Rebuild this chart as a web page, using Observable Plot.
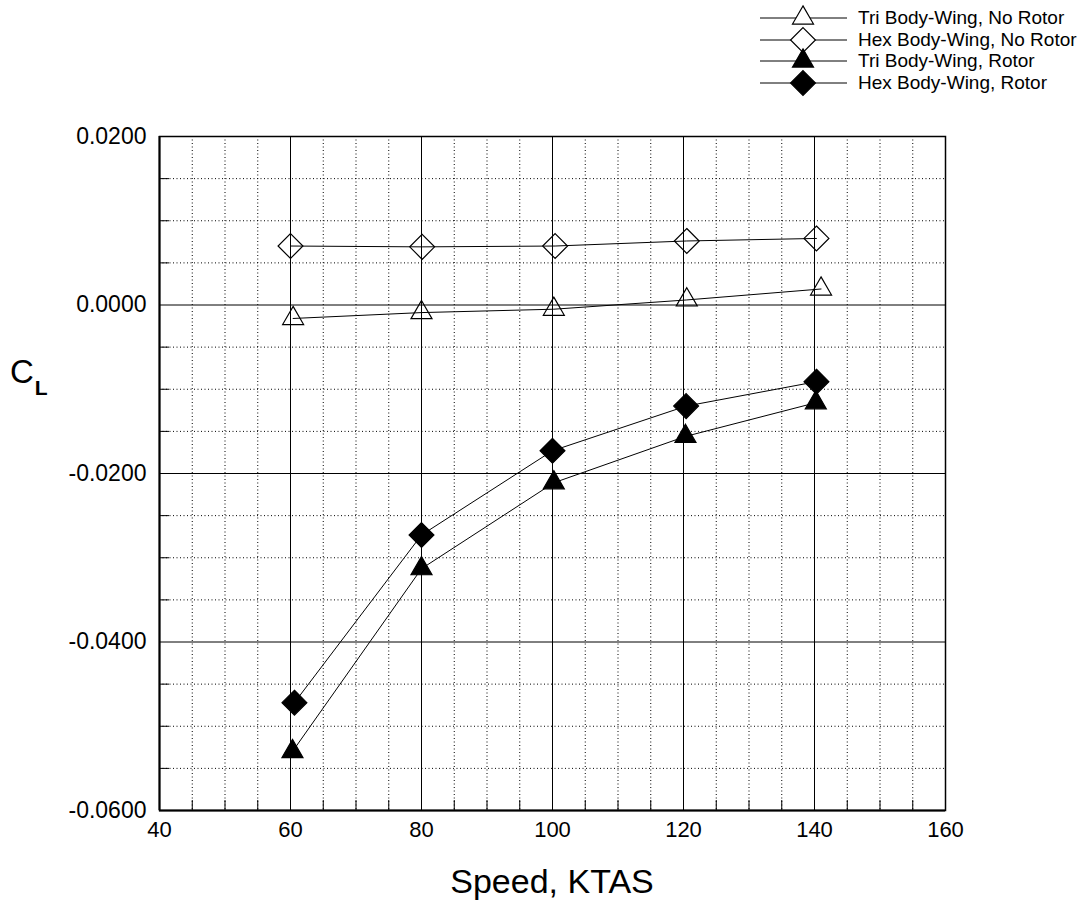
<!DOCTYPE html>
<html><head><meta charset="utf-8">
<script src="https://cdn.jsdelivr.net/npm/d3@7"></script>
<script src="https://cdn.jsdelivr.net/npm/@observablehq/plot@0.6"></script>
<style>
body{margin:0;background:#fff;font-family:"Liberation Sans",Arial,sans-serif;color:#000;}
#wrap{position:relative;width:1087px;height:903px;overflow:hidden;}
#legend{position:absolute;left:760px;top:7px;font-size:19px;}
#legend .row{display:flex;align-items:center;height:21.7px;}
#legend .row span{margin-left:10px;white-space:nowrap;}
#xtitle{position:absolute;left:159px;width:786px;top:862px;text-align:center;font-size:34px;line-height:38px;}
#ytitle{position:absolute;left:10px;top:354px;font-size:33px;line-height:36px;}
#ytitle sub{font-size:21px;font-weight:bold;vertical-align:-12px;margin-left:1px;}
</style></head><body><div id="wrap"><div id="legend"></div><div id="xtitle">Speed, KTAS</div><div id="ytitle">C<sub>L</sub></div></div>
<script>
// ---- data ----
const seriesNames = ["Tri Body-Wing, No Rotor","Hex Body-Wing, No Rotor","Tri Body-Wing, Rotor","Hex Body-Wing, Rotor"];
const seriesSymbols = ["triangle","diamond2","triangle","diamond2"];
const seriesFilled = [false,false,true,true];
const speedTriNoRotor = [60.4, 80.0, 100.2, 120.5, 141.0];
const clTriNoRotor    = [-0.0016, -0.0009, -0.0005, 0.0006, 0.0019];
const speedHexNoRotor = [60.0, 80.1, 100.4, 120.5, 140.3];
const clHexNoRotor    = [0.0070, 0.0069, 0.0070, 0.0076, 0.0079];
const speedTriRotor   = [60.3, 80.0, 100.2, 120.3, 140.2];
const clTriRotor      = [-0.0530, -0.0313, -0.0211, -0.0156, -0.0116];
const speedHexRotor   = [60.6, 80.0, 100.0, 120.4, 140.3];
const clHexRotor      = [-0.0472, -0.0273, -0.0173, -0.0120, -0.0091];
const xTicks = [40, 60, 80, 100, 120, 140, 160];
const yTicks = [-0.06, -0.04, -0.02, 0, 0.02];
const xMajorGrid = [60, 80, 100, 120, 140];
const yMajorGrid = [-0.04, -0.02, 0];
const xMinorGrid = [45, 50, 55, 65, 70, 75, 85, 90, 95, 105, 110, 115, 125, 130, 135, 145, 150, 155];
const yMinorGrid = [-0.055, -0.05, -0.045, -0.035, -0.03, -0.025, -0.015, -0.01, -0.005, 0.005, 0.01, 0.015];

const speeds = [speedTriNoRotor, speedHexNoRotor, speedTriRotor, speedHexRotor];
const cls = [clTriNoRotor, clHexNoRotor, clTriRotor, clHexRotor];
const rows = seriesNames.flatMap((name, i) => speeds[i].map((s, j) => ({series: name, speed: s, cl: cls[i][j]})));

const symR = {triangle: 7.8, diamond2: 11.2};
const font = '"Liberation Sans", Arial, sans-serif';

const dotted = {stroke: "#000", strokeOpacity: 1, strokeWidth: 1, strokeDasharray: "1,2.5"};
const solid = {stroke: "#000", strokeOpacity: 1, strokeWidth: 1};

const marks = [
  Plot.gridX(xMinorGrid, dotted),
  Plot.gridY(yMinorGrid, dotted),
  Plot.gridX(xMajorGrid, solid),
  Plot.gridY(yMajorGrid, solid),
  Plot.axisX(xMinorGrid, {anchor: "bottom", tickSize: -10, tickFormat: () => "", label: null}),
  Plot.axisY(yMinorGrid, {anchor: "left", tickSize: -10, tickFormat: () => "", label: null}),
  Plot.axisX(xTicks, {anchor: "bottom", tickSize: 0, tickPadding: 11, fontSize: 22, label: null, tickFormat: d => String(d)}),
  Plot.axisY(yTicks, {anchor: "left", tickSize: 0, tickPadding: 13, fontSize: 23, label: null, tickFormat: d => d.toFixed(4)}),
  Plot.frame({stroke: "#000", strokeWidth: 1.5}),
  Plot.ruleX([40], {stroke: "#000", strokeWidth: 2}),
  Plot.ruleY([-0.06], {stroke: "#000", strokeWidth: 2}),
  Plot.line(rows, {x: "speed", y: "cl", z: "series", stroke: "#000", strokeWidth: 1})
];
seriesNames.forEach((name, i) => {
  marks.push(Plot.dot(rows.filter(d => d.series === name), {
    x: "speed", y: "cl", symbol: seriesSymbols[i], r: symR[seriesSymbols[i]],
    fill: seriesFilled[i] ? "#000" : "none", stroke: "#000", strokeWidth: 1.2
  }));
});

const chart = Plot.plot({
  width: 1087, height: 903,
  marginLeft: 159, marginRight: 142, marginTop: 136, marginBottom: 93,
  x: {domain: [40, 160]},
  y: {domain: [-0.06, 0.02]},
  style: {fontFamily: font, fontSize: "20px", color: "#000", background: "#fff", overflow: "visible"},
  marks
});
document.getElementById("wrap").prepend(chart);

// ---- legend ----
const symTypes = {triangle: d3.symbolTriangle, diamond2: d3.symbolDiamond2};
const legend = d3.select("#legend");
seriesNames.forEach((name, i) => {
  const row = legend.append("div").attr("class", "row");
  const svg = row.append("svg").attr("width", 88).attr("height", 22).style("overflow", "visible");
  svg.append("line").attr("x1", 0).attr("x2", 87).attr("y1", 11).attr("y2", 11).attr("stroke", "#000").attr("stroke-width", 1);
  const r = symR[seriesSymbols[i]];
  svg.append("path").attr("transform", "translate(43,11)")
    .attr("d", d3.symbol(symTypes[seriesSymbols[i]], Math.PI * r * r)())
    .attr("fill", seriesFilled[i] ? "#000" : "#fff").attr("stroke", "#000").attr("stroke-width", 1.2);
  row.append("span").text(name);
});
</script>
</body></html>
